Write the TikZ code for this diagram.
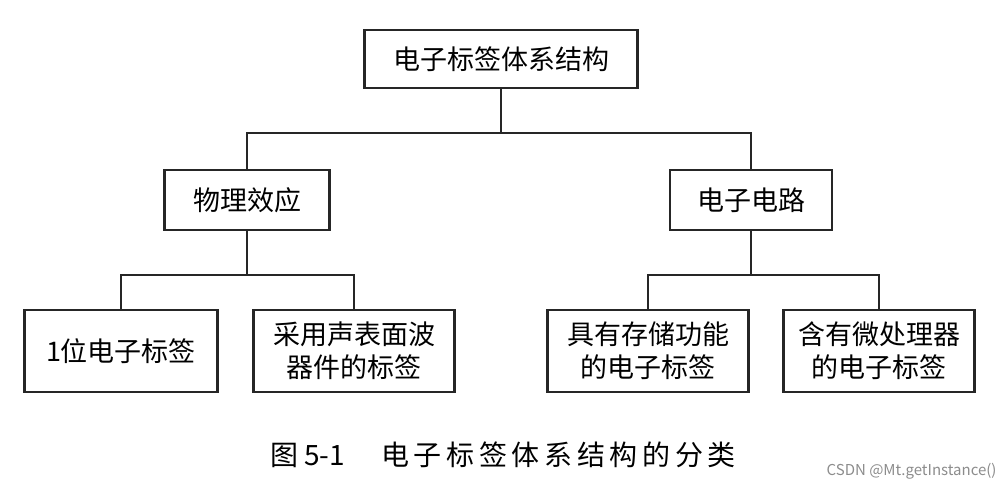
\documentclass[tikz,border=0pt]{standalone}
\usepackage{fontspec}
\newfontfamily\cjk{Noto Sans CJK SC}
\begin{document}
\begin{tikzpicture}[x=1pt,y=-1pt,
  box/.style={draw=black!85,line width=2.2pt,font=\cjk\fontsize{27}{33}\selectfont,align=center,inner sep=0pt},
  conn/.style={draw=black!85,line width=1.6pt}]
\useasboundingbox (0,0) rectangle (1007,492);
\node[box,minimum width=273,minimum height=58] (top) at (501,59) {电子标签体系结构};
\node[box,minimum width=165,minimum height=60] (phy) at (247,200) {物理效应};
\node[box,minimum width=162,minimum height=60] (ele) at (751,200) {电子电路};
\node[box,minimum width=193,minimum height=82] (a) at (121,351) {1位电子标签};
\node[box,minimum width=201,minimum height=82] (b) at (354,351) {采用声表面波\\器件的标签};
\node[box,minimum width=201,minimum height=82] (c) at (648,351) {具有存储功能\\的电子标签};
\node[box,minimum width=191,minimum height=82] (d) at (879,351) {含有微处理器\\的电子标签};
\coordinate (j1) at (501,133);
\coordinate (j2) at (247,275);
\coordinate (j3) at (751,275);
\draw[conn] (top.south) -- (j1);
\draw[conn] (j1) -| (phy.north);
\draw[conn] (j1) -| (ele.north);
\draw[conn] (phy.south) -- (j2);
\draw[conn] (j2) -| (a.north);
\draw[conn] (j2) -| (b.north);
\draw[conn] (ele.south) -- (j3);
\draw[conn] (j3) -| (c.north);
\draw[conn] (j3) -| (d.north);
\node[font=\cjk\fontsize{28}{32}\selectfont] (cap) at (503,455) {图 5-1\hspace{36pt}电\,子\,标\,签\,体\,系\,结\,构\,的\,分\,类};
\node[font=\cjk\fontsize{15}{17}\selectfont,text=black!45,anchor=east] (wm) at (1000,471) {CSDN @Mt.getInstance()};
\end{tikzpicture}
\end{document}
